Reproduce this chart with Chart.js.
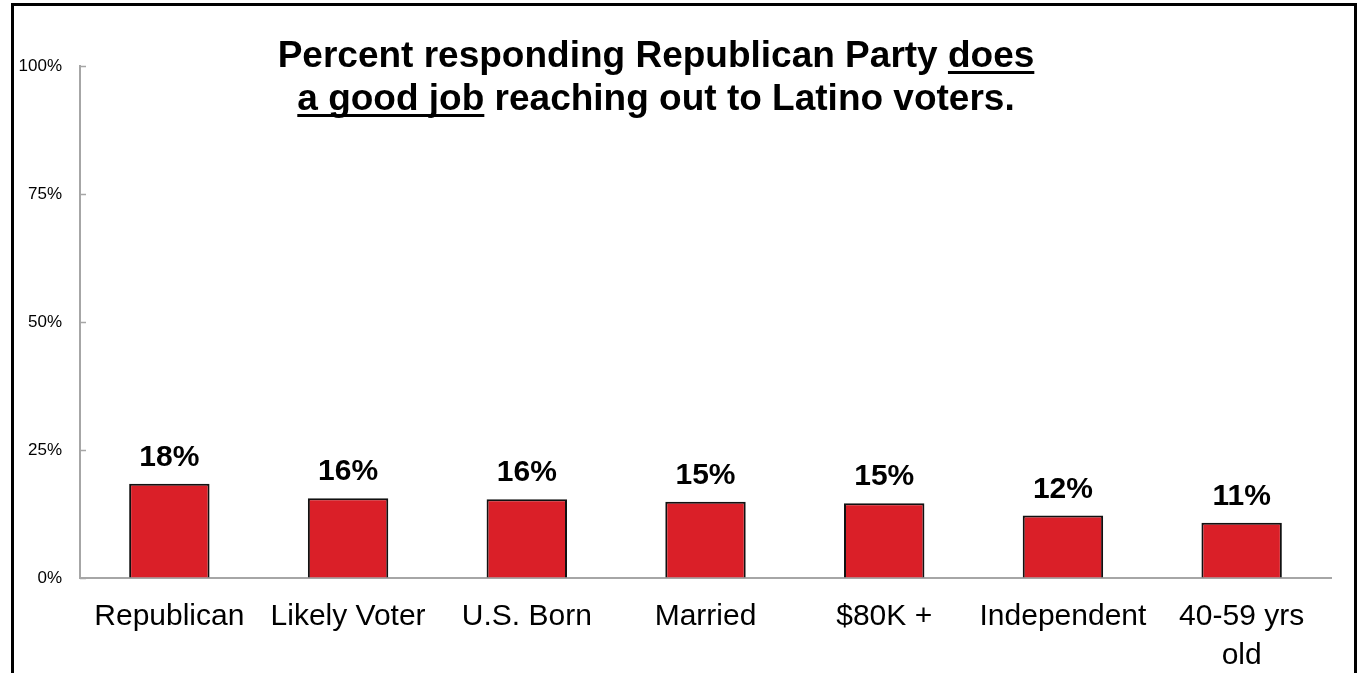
<!DOCTYPE html>
<html>
<head>
<meta charset="utf-8">
<script src="https://cdn.jsdelivr.net/npm/chart.js@4.4.1/dist/chart.umd.min.js"></script>
<style>
  html, body { margin: 0; padding: 0; background: #ffffff; overflow: hidden; }
  #wrap { position: relative; width: 1359px; height: 673px; }
</style>
</head>
<body>
<div id="wrap"><canvas id="reachChart" width="1359" height="673"></canvas></div>
<script>
// Chart data
const categories = ['Republican', 'Likely Voter', 'U.S. Born', 'Married', '$80K +', 'Independent', ['40-59 yrs', 'old']];
const percentValues = [18.4, 15.6, 15.4, 14.9, 14.6, 12.2, 10.8];
const valueLabels = ['18%', '16%', '16%', '15%', '15%', '12%', '11%'];
const yTicks = [0, 25, 50, 75, 100];

const FONT = '"Liberation Sans", Arial, sans-serif';
const AXIS_GREY = '#a6a6a6';

// Outer black frame (open at the bottom)
const framePlugin = {
    id: 'frame',
    beforeDraw(chart) {
        const ctx = chart.ctx;
        ctx.save();
        ctx.fillStyle = '#ffffff';
        ctx.fillRect(0, 0, chart.width, chart.height);
        ctx.strokeStyle = '#000000';
        ctx.lineWidth = 3;
        ctx.beginPath();
        ctx.moveTo(12.5, chart.height + 5);
        ctx.lineTo(12.5, 4.5);
        ctx.lineTo(1355.5, 4.5);
        ctx.lineTo(1355.5, chart.height + 5);
        ctx.stroke();
        ctx.restore();
    }
};

// Short tick marks pointing into the plot area
const innerTicksPlugin = {
    id: 'innerTicks',
    afterDraw(chart) {
        const ctx = chart.ctx;
        const y = chart.scales.y;
        const left = chart.chartArea.left;
        ctx.save();
        ctx.strokeStyle = AXIS_GREY;
        ctx.lineWidth = 1.5;
        yTicks.forEach(v => {
            const py = Math.round(y.getPixelForValue(v)) + 0.5;
            ctx.beginPath();
            ctx.moveTo(left, py);
            ctx.lineTo(left + 6, py);
            ctx.stroke();
        });
        ctx.restore();
    }
};

// Bold value labels above bars
const valueLabelPlugin = {
    id: 'valueLabels',
    afterDatasetsDraw(chart) {
        const ctx = chart.ctx;
        const meta = chart.getDatasetMeta(0);
        ctx.save();
        ctx.font = 'bold 30px ' + FONT;
        ctx.fillStyle = '#000000';
        ctx.textAlign = 'center';
        ctx.textBaseline = 'alphabetic';
        meta.data.forEach((bar, i) => {
            ctx.fillText(valueLabels[i], bar.x, bar.y - 18);
        });
        ctx.restore();
    }
};

// Two-line title with underlined words
const titlePlugin = {
    id: 'underlinedTitle',
    afterDraw(chart) {
        const ctx = chart.ctx;
        const lines = [
            { y: 67, parts: [['Percent responding Republican Party ', false], ['does', true]] },
            { y: 110, parts: [['a good job', true], [' reaching out to Latino voters.', false]] }
        ];
        const cx = 656;
        ctx.save();
        ctx.font = 'bold 37px ' + FONT;
        ctx.fillStyle = '#000000';
        ctx.textAlign = 'left';
        ctx.textBaseline = 'alphabetic';
        lines.forEach(line => {
            const total = line.parts.reduce((w, p) => w + ctx.measureText(p[0]).width, 0);
            let x = cx - total / 2;
            line.parts.forEach(([text, underline]) => {
                const w = ctx.measureText(text).width;
                ctx.fillText(text, x, line.y);
                if (underline) {
                    ctx.fillRect(x, line.y + 4, w, 3);
                }
                x += w;
            });
        });
        ctx.restore();
    }
};

const ctx = document.getElementById('reachChart').getContext('2d');

new Chart(ctx, {
    type: 'bar',
    data: {
        labels: categories,
        datasets: [{
            data: percentValues,
            backgroundColor: '#da1f28',
            borderColor: '#111111',
            borderWidth: 2,
            categoryPercentage: 1.0,
            barPercentage: 0.45
        }]
    },
    options: {
        responsive: false,
        animation: false,
        events: [],
        layout: {
            padding: { left: 0, top: 66, right: 28, bottom: 0 }
        },
        plugins: {
            legend: { display: false },
            title: { display: false },
            tooltip: { enabled: false }
        },
        scales: {
            x: {
                grid: { display: false, drawTicks: false },
                border: { display: true, color: AXIS_GREY, width: 2 },
                ticks: {
                    color: '#000000',
                    padding: 19,
                    maxRotation: 0,
                    autoSkip: false,
                    font: { family: FONT, size: 30, lineHeight: 1.3 }
                },
                afterFit(scale) { scale.height = 95; }
            },
            y: {
                min: 0,
                max: 100,
                grid: { drawOnChartArea: false, drawTicks: false },
                border: { display: true, color: AXIS_GREY, width: 2 },
                afterBuildTicks(scale) {
                    scale.ticks = yTicks.map(v => ({ value: v }));
                },
                ticks: {
                    color: '#000000',
                    padding: 18,
                    font: { family: FONT, size: 17 },
                    callback: v => v + '%'
                },
                afterFit(scale) { scale.width = 80; }
            }
        }
    },
    plugins: [framePlugin, innerTicksPlugin, valueLabelPlugin, titlePlugin]
});
</script>
</body>
</html>
